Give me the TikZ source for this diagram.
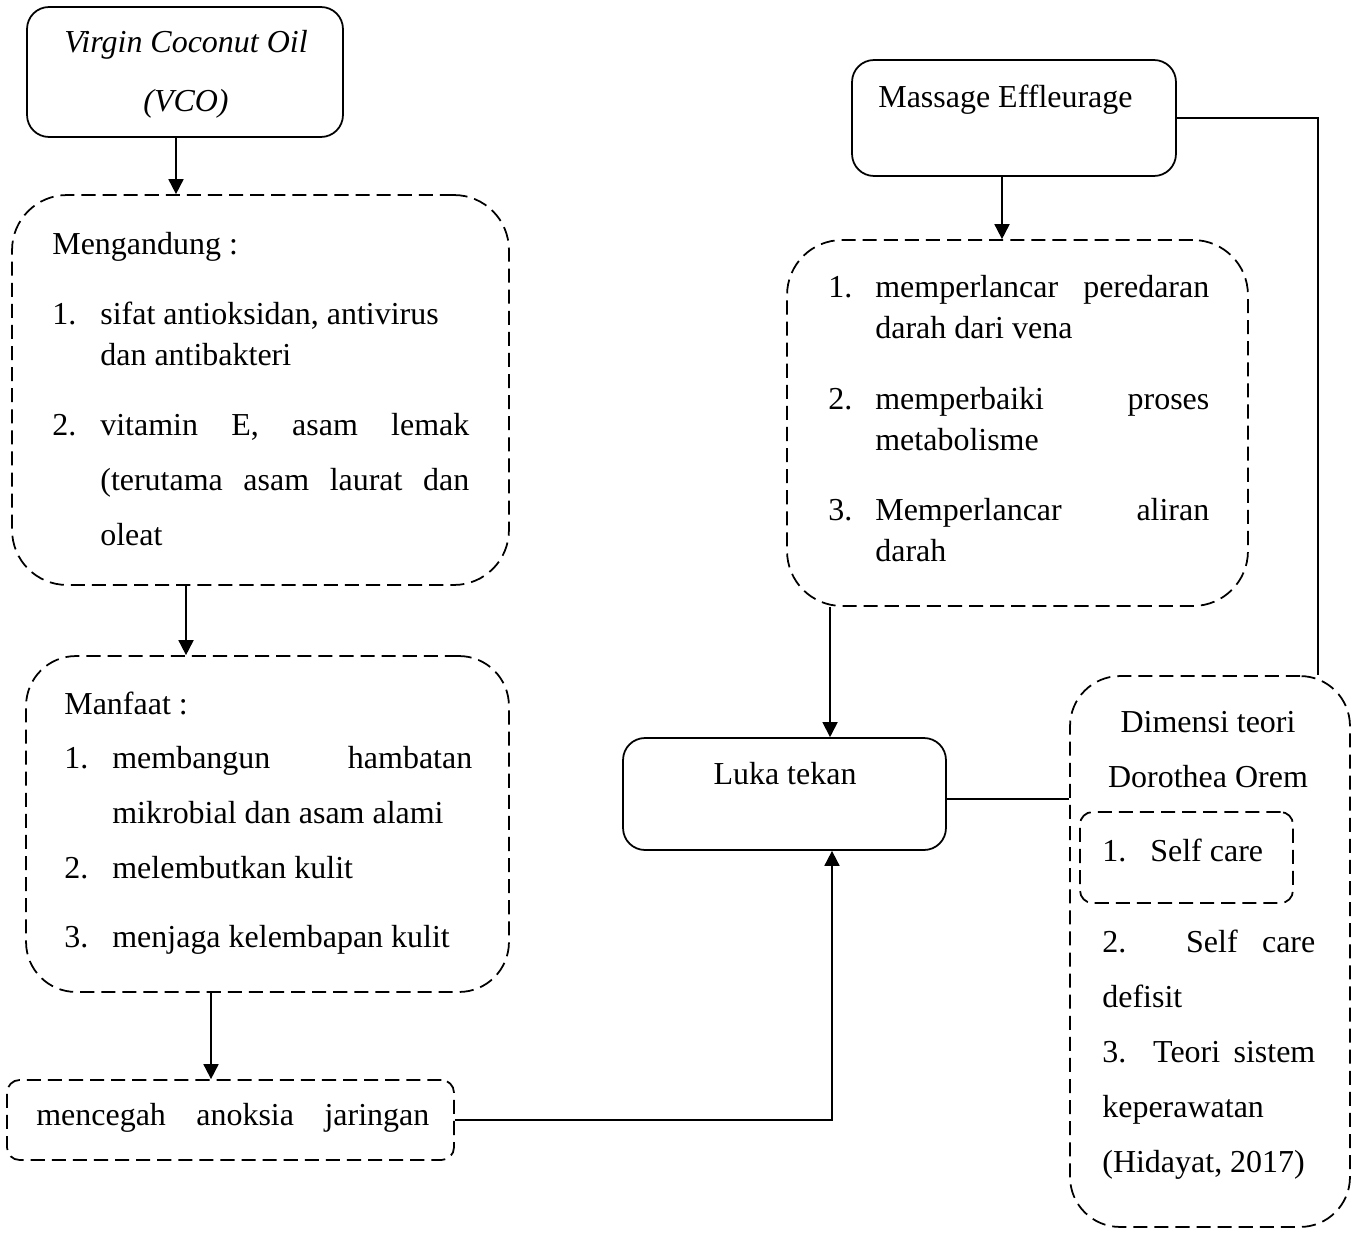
\documentclass[tikz,border=0pt]{standalone}
\usepackage{fontspec}
\setmainfont{Liberation Serif}
\usepackage {tikz}
\usetikzlibrary {positioning}
\usetikzlibrary{calc}
\usetikzlibrary{arrows.meta}
\tikzset{
    solidbox/.style = {rectangle,draw,line width=1pt,rounded corners=0.44cm,inner sep=0pt},
    dashbox/.style = {rectangle,draw,line width=1pt,dash pattern=on 8pt off 4pt,inner sep=0pt},
    txt/.style = {anchor=base west,inner sep=0pt,align=left,font=\fontsize{18.2}{23.3}\selectfont},
    loose/.style = {font=\fontsize{18.2}{31.3}\selectfont},
    arr/.style = {line width=1pt,-{Triangle[length=0.3cm,width=0.3cm]}},
    link/.style = {line width=1pt}}

\begin{document}
\begin{tikzpicture}[x=0.02cm,y=-0.02cm]
        \useasboundingbox (0,0) rectangle (1355,1233);
        % boxes
        \node[solidbox,minimum width=6.32cm,minimum height=2.6cm] (vco) at (185,72) {};
        \node[dashbox,rounded corners=1.1cm,minimum width=9.94cm,minimum height=7.8cm] (contain) at (260.5,390) {};
        \node[dashbox,rounded corners=1cm,minimum width=9.66cm,minimum height=6.72cm] (benefit) at (267.5,824) {};
        \node[dashbox,rounded corners=0.25cm,minimum width=8.94cm,minimum height=1.6cm] (prevent) at (230.5,1120) {};
        \node[solidbox,minimum width=6.48cm,minimum height=2.32cm] (massage) at (1014,118) {};
        \node[dashbox,rounded corners=1.1cm,minimum width=9.22cm,minimum height=7.32cm] (effect) at (1017.5,423) {};
        \node[solidbox,minimum width=6.46cm,minimum height=2.24cm] (luka) at (784.5,794) {};
        \node[dashbox,rounded corners=1cm,minimum width=5.6cm,minimum height=11.02cm] (orem) at (1210,951.5) {};
        \node[dashbox,rounded corners=0.25cm,minimum width=4.26cm,minimum height=1.82cm] (selfcare) at (1186.5,857.5) {};
        % texts (multi-line nodes sit on their last baseline)
        \node[txt,anchor=base,align=center,font={\fontsize{18.2}{33.6}\selectfont\itshape}] (vcoT) at (186,112) {Virgin Coconut Oil\\(VCO)};
        \node[txt] (containT) at (52,255) {Mengandung :};
        \path (52,324) node[txt] (c1) {1.}
        + (48,41) node[txt] (c1T) {sifat antioksidan, antivirus\\dan antibakteri};
        \path (52,435) node[txt] (c2) {2.}
        + (48,110) node[txt,loose] (c2T) {\makebox[7.38cm][s]{vitamin E, asam lemak}\\\makebox[7.38cm][s]{(terutama asam laurat dan}\\oleat};
        \node[txt] (benefitT) at (64,714) {Manfaat :};
        \path (64,768) node[txt] (b1) {1.}
        + (48,55) node[txt,loose] (b1T) {\makebox[7.2cm][s]{membangun hambatan}\\mikrobial dan asam alami};
        \path (64,878) node[txt] (b2) {2.}
        + (48,0) node[txt] (b2T) {melembutkan kulit};
        \path (64,947) node[txt] (b3) {3.}
        + (48,0) node[txt] (b3T) {menjaga kelembapan kulit};
        \node[txt] (preventT) at (36,1125) {\makebox[7.86cm][s]{mencegah anoksia jaringan}};
        \node[txt] (massageT) at (878,108) {Massage Effleurage};
        \path (828,297) node[txt] (e1) {1.}
        + (47,41) node[txt] (e1T) {\makebox[6.68cm][s]{memperlancar peredaran}\\darah dari vena};
        \path (828,409) node[txt] (e2) {2.}
        + (47,41) node[txt] (e2T) {\makebox[6.68cm][s]{memperbaiki proses}\\metabolisme};
        \path (828,520) node[txt] (e3) {3.}
        + (47,41) node[txt] (e3T) {\makebox[6.68cm][s]{Memperlancar aliran}\\darah};
        \node[txt,anchor=base] (lukaT) at (785,784) {Luka tekan};
        \node[txt,anchor=base,align=center,loose] (oremT) at (1208,787) {Dimensi teori\\Dorothea Orem};
        \path (1102,861) node[txt] (s1) {1.}
        + (48,0) node[txt] (s1T) {Self care};
        \node[txt,loose] (oremL) at (1102,1172) {\makebox[4.26cm][s]{2. Self care}\\defisit\\\makebox[4.26cm][s]{3. Teori sistem}\\keperawatan\\(Hidayat, 2017)};
        % connectors
        \draw[arr] ([xshift=-0.18cm]vco.south) -- ([xshift=-0.18cm]vco.south |- contain.north);
        \draw[arr] ([xshift=-1.49cm]contain.south) -- ([xshift=-1.49cm]contain.south |- benefit.north);
        \draw[arr] ([xshift=-1.13cm]benefit.south) -- ([xshift=-1.13cm]benefit.south |- prevent.north);
        \draw[arr] (prevent.east) -| ([xshift=0.95cm]luka.south);
        \draw[arr] ([xshift=-0.24cm]massage.south) -- ([xshift=-0.24cm]massage.south |- effect.north);
        \draw[arr] ([xshift=-3.75cm]effect.south) -- ([xshift=-3.75cm]effect.south |- luka.north);
        \draw[link] ([yshift=-0.1cm]luka.east) -- ([yshift=-0.1cm]luka.east -| orem.west);
        \draw[link] (massage.east) -| ([xshift=2.16cm]orem.north);
    \end{tikzpicture}
\end{document}
